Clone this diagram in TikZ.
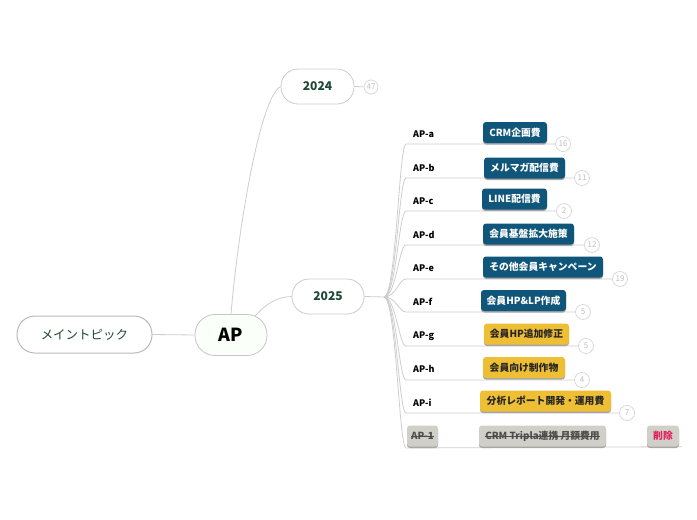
\documentclass[tikz,border=0pt]{standalone}
\usepackage{fontspec}
\setmainfont{Noto Sans CJK JP}
\newcommand\strk[1]{\sbox0{#1}\rlap{\rule[0.3em]{\wd0}{0.6pt}}\usebox0}
\definecolor{Topicgreen}{RGB}{28,72,52}
\definecolor{Costblue}{RGB}{16,86,122}
\definecolor{Costyellow}{RGB}{238,190,52}
\definecolor{Costgray}{RGB}{208,208,200}
\definecolor{Dropred}{RGB}{226,32,94}
\definecolor{Linegray}{RGB}{205,205,205}
\usetikzlibrary{backgrounds, shadows}

\begin{document}
\begin{tikzpicture}[
  x=1pt, y=-1pt,
  font=\fontsize{9}{11}\selectfont,
  topic/.style={draw=gray!55, line width=1pt, rounded corners=18pt,
                minimum width=135pt, minimum height=37pt, fill=white,
                text=Topicgreen, font=\fontsize{12.5}{14}\selectfont},
  apnode/.style={draw=gray!45, line width=0.8pt, rounded corners=20pt,
                 minimum width=72pt, minimum height=41pt, fill=green!2,
                 font=\bfseries\fontsize{18}{20}\selectfont},
  yearnode/.style={draw=gray!40, line width=0.8pt, rounded corners=17pt,
                   minimum width=73pt, minimum height=35pt, fill=white,
                   text=Topicgreen, font=\bfseries\fontsize{12}{14}\selectfont},
  aplbl/.style={anchor=west, inner sep=0pt, font=\bfseries\fontsize{9}{11}\selectfont},
  costbox/.style={rounded corners=3pt, minimum height=21pt, inner xsep=0pt,
                  font=\bfseries\fontsize{9.8}{11}\selectfont,
                  drop shadow={shadow xshift=0pt, shadow yshift=-1.5pt,
                               fill=gray!70, opacity=1}},
  costblue/.style={costbox, fill=Costblue, text=white},
  costyellow/.style={costbox, fill=Costyellow, text=black!85},
  costgray/.style={costbox, fill=Costgray, text=black!70},
  cnt/.style={circle, draw=gray!30, line width=0.8pt, minimum size=15pt,
              inner sep=0pt, fill=white, text=gray!50,
              font=\fontsize{8}{9}\selectfont},
  branch/.style={draw=Linegray, line width=0.8pt}
]
\useasboundingbox (0,0) rectangle (697,520);

%% ——— Center: main topic and AP ———
\node[topic] (main) at (84.5,334.5) {メイントピック};
\node[apnode] (ap) at (231,335) {AP};

%% ——— Years ———
\node[yearnode] (y2024) at (317.5,86.5) {2024};
\node[cnt, minimum size=14pt] (cnt-2024) at (371,87) {47};
\node[yearnode, minimum width=72pt] (y2025) at (328,296.5) {2025};
\coordinate (hub) at (384,297);

%% ——— 2025 items ———
\node[aplbl] (lbl-a) at (413,134) {AP-a};
\node[costblue, minimum width=64pt] (box-a) at (515,132.5) {CRM企画費};
\node[cnt] (cnt-a) at (563,144) {16};

\node[aplbl] (lbl-b) at (413,168) {AP-b};
\node[costblue, minimum width=81pt] (box-b) at (524.5,168) {メルマガ配信費};
\node[cnt] (cnt-b) at (582,178) {11};

\node[aplbl] (lbl-c) at (413,201) {AP-c};
\node[costblue, minimum width=65pt] (box-c) at (514.5,199) {LINE配信費};
\node[cnt] (cnt-c) at (564,211) {2};

\node[aplbl] (lbl-d) at (413,235) {AP-d};
\node[costblue, minimum width=91pt] (box-d) at (528.5,234) {会員基盤拡大施策};
\node[cnt] (cnt-d) at (592,245) {12};

\node[aplbl] (lbl-e) at (413,268) {AP-e};
\node[costblue, minimum width=120pt] (box-e) at (543,267) {その他会員キャンペーン};
\node[cnt] (cnt-e) at (620,279) {19};

\node[aplbl] (lbl-f) at (413,302) {AP-f};
\node[costblue, minimum width=85pt] (box-f) at (523.5,300.5) {会員HP\&LP作成};
\node[cnt] (cnt-f) at (583,312) {5};

\node[aplbl] (lbl-g) at (413,336) {AP-g};
\node[costyellow, minimum width=85pt] (box-g) at (526.5,334) {会員HP追加修正};
\node[cnt] (cnt-g) at (586,346) {5};

\node[aplbl] (lbl-h) at (413,369) {AP-h};
\node[costyellow, minimum width=82pt] (box-h) at (524,367.5) {会員向け制作物};
\node[cnt] (cnt-h) at (582,380) {4};

\node[aplbl] (lbl-i) at (413,403) {AP-i};
\node[costyellow, minimum width=131pt] (box-i) at (545.5,401) {分析レポート開発・運用費};
\node[cnt] (cnt-i) at (627,413) {7};

\node[costgray, minimum width=31pt] (lbl-1) at (422.5,436) {\strk{AP-1}};
\node[costgray, minimum width=127pt] (box-1) at (542.5,436) {\strk{CRM Tripla連携 月額費用}};
\node[costgray, minimum width=32pt, text=Dropred] (del-1) at (663,436) {削除};

%% ——— Connectors ———
\begin{scope}[on background layer]
  \draw[branch] (main.east) -- (ap.west);
  \draw[branch] (ap.north) .. controls (238,230) and (260,97) .. (y2024.west);
  \draw[branch] ([xshift=24pt,yshift=-2pt]ap.north) .. controls (268,302) and (278,297) .. (y2025.west);
  \draw[branch] (y2024.east) -- (cnt-2024);
  \draw[branch] (y2025.east) -- (hub);

  \draw[branch] (hub) .. controls (396,297) and (399,144) .. (406,144) -- (cnt-a);
  \draw[branch] (hub) .. controls (396,297) and (399,178) .. (406,178) -- (cnt-b);
  \draw[branch] (hub) .. controls (396,297) and (399,211) .. (406,211) -- (cnt-c);
  \draw[branch] (hub) .. controls (396,297) and (399,245) .. (406,245) -- (cnt-d);
  \draw[branch] (hub) .. controls (396,297) and (399,279) .. (406,279) -- (cnt-e);
  \draw[branch] (hub) .. controls (396,297) and (399,312) .. (406,312) -- (cnt-f);
  \draw[branch] (hub) .. controls (396,297) and (399,346) .. (406,346) -- (cnt-g);
  \draw[branch] (hub) .. controls (396,297) and (399,380) .. (406,380) -- (cnt-h);
  \draw[branch] (hub) .. controls (396,297) and (399,413) .. (406,413) -- (cnt-i);
  \draw[branch] (hub) .. controls (396,297) and (399,448) .. (406,448) -- ([xshift=3pt]del-1.south east);
\end{scope}

\end{tikzpicture}
\end{document}
